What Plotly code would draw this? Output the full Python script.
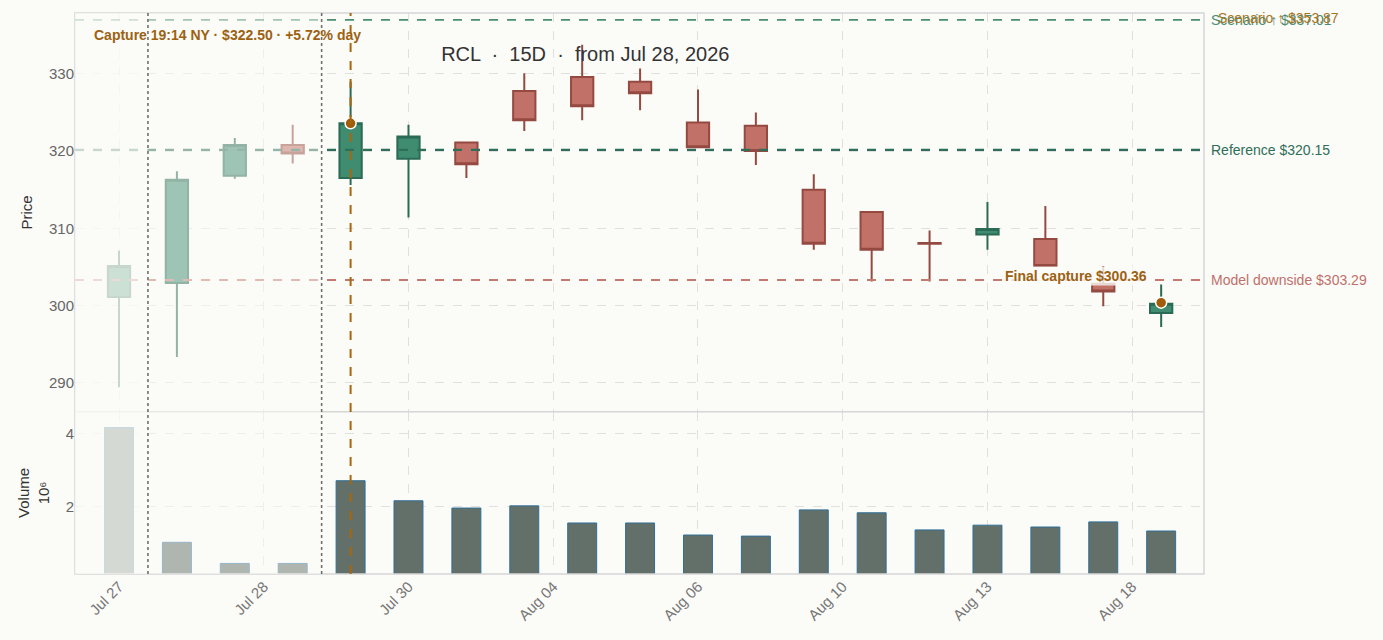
import plotly.graph_objects as go

# ---- data ----
bar_idx = list(range(19))
opens = [301.1, 302.9, 316.8, 320.8, 316.5, 319.0, 321.1, 327.8, 329.6, 329.0,
         323.7, 323.3, 315.0, 312.1, 308.1, 309.2, 308.6, 302.8, 299.0]
highs = [307.1, 317.4, 321.7, 323.4, 329.0, 323.4, 321.2, 330.1, 333.8, 330.7,
         328.0, 325.0, 317.0, 312.1, 309.7, 313.4, 312.9, 305.1, 302.7]
lows = [289.4, 293.3, 316.4, 318.4, 315.6, 311.4, 316.5, 322.6, 324.0, 325.3,
        320.4, 318.2, 307.2, 303.1, 303.1, 307.2, 305.1, 299.9, 297.2]
closes = [305.1, 316.3, 320.8, 319.7, 323.6, 321.9, 318.3, 324.0, 325.8, 327.5,
          320.5, 320.0, 308.0, 307.2, 308.0, 309.9, 305.1, 301.8, 300.2]
volume_m = [4.17, 1.02, 0.44, 0.44, 2.71, 2.16, 1.96, 2.02, 1.55, 1.55,
            1.22, 1.19, 1.91, 1.83, 1.36, 1.49, 1.44, 1.58, 1.33]

tick_labels = ["Jul 27", "Jul 28", "Jul 30", "Aug 04", "Aug 06", "Aug 10", "Aug 13", "Aug 18"]
tick_step = 2.5

reference = 320.15
downside = 303.29
scenario_up = 337.01
scenario_hi = 353.87
capture_bar = 4
final_bar = 18
final_price = 300.36
context_end = 0.5     # first dotted divider
window_start = 3.5    # second dotted divider

BG = "#fbfbf8"
INC_FILL, INC_LINE = "#3f8c70", "#2b6a55"
DEC_FILL, DEC_LINE = "#c27168", "#944a40"
GOLD = "#9c6212"
FONT = "Liberation Sans, Arial, sans-serif"

candles = go.Candlestick(
    x=bar_idx, open=opens, high=highs, low=lows, close=closes,
    increasing=dict(fillcolor=INC_FILL, line=dict(color=INC_LINE, width=2)),
    decreasing=dict(fillcolor=DEC_FILL, line=dict(color=DEC_LINE, width=2)),
    showlegend=False, xaxis="x", yaxis="y",
)

vol = go.Bar(
    x=bar_idx, y=volume_m, width=0.5,
    marker=dict(color="#627069", line=dict(color="#2f6f98", width=1)),
    showlegend=False, xaxis="x", yaxis="y2",
)

marks = go.Scatter(
    x=[capture_bar, final_bar], y=[closes[capture_bar], final_price],
    mode="markers",
    marker=dict(size=11, color="#a05c08", line=dict(color="white", width=1.5)),
    showlegend=False, xaxis="x", yaxis="y",
)

shapes = []
# borders
shapes.append(dict(type="rect", xref="paper", yref="paper", x0=0, x1=1, y0=0, y1=1,
                   line=dict(color="#d6d6d6", width=1.5), layer="above"))
shapes.append(dict(type="line", xref="paper", yref="paper", x0=0, x1=1, y0=0.289, y1=0.289,
                   line=dict(color="#d6d6d6", width=1.5), layer="above"))
# level lines
shapes.append(dict(type="line", xref="paper", yref="y", x0=0, x1=1, y0=scenario_up, y1=scenario_up,
                   line=dict(color="#4a8c74", width=1.6, dash="dash"), layer="above"))
shapes.append(dict(type="line", xref="paper", yref="y", x0=0, x1=1, y0=reference, y1=reference,
                   line=dict(color="#2f6e58", width=2.2, dash="dash"), layer="above"))
shapes.append(dict(type="line", xref="paper", yref="y", x0=0, x1=1, y0=downside, y1=downside,
                   line=dict(color="#c27a70", width=2.2, dash="dash"), layer="above"))
# fade the context bars
for x_end in [window_start, context_end]:
    shapes.append(dict(type="rect", xref="x", yref="paper", x0=-0.76, x1=x_end, y0=0, y1=1,
                       fillcolor=BG, opacity=0.5, line=dict(width=0), layer="above"))
# dividers and capture line
for xv in [context_end, window_start]:
    shapes.append(dict(type="line", xref="x", yref="paper", x0=xv, x1=xv, y0=0, y1=1,
                       line=dict(color="#707070", width=1.6, dash="dot"), layer="above"))
shapes.append(dict(type="line", xref="x", yref="paper", x0=capture_bar, x1=capture_bar, y0=0, y1=1,
                   line=dict(color="#a8660f", width=2, dash="dash"), layer="above"))

annotations = [
    dict(xref="paper", yref="y", x=1, y=reference, xanchor="left", xshift=5,
         text=f"Reference ${reference:.2f}", showarrow=False,
         font=dict(size=14, color="#2f6e58", family=FONT)),
    dict(xref="paper", yref="y", x=1, y=downside, xanchor="left", xshift=5,
         text=f"Model downside ${downside:.2f}", showarrow=False,
         font=dict(size=14, color="#c0706a", family=FONT)),
    dict(xref="paper", yref="y", x=1, y=scenario_up, xanchor="left", xshift=5,
         text=f"Scenario ↑ ${scenario_up:.2f}", showarrow=False,
         font=dict(size=14, color="#4a8c74", family=FONT)),
    dict(xref="paper", yref="paper", x=1, y=1, xanchor="left", yanchor="middle", xshift=12, yshift=-5,
         text=f"Scenario ↑ ${scenario_hi:.2f}", showarrow=False,
         font=dict(size=14, color="#a8741c", family=FONT)),
    dict(xref="paper", yref="paper", x=0.015, y=1, xanchor="left", yanchor="top", yshift=-12,
         text="<b>Capture 19:14 NY · $322.50 · +5.72% day</b>", showarrow=False,
         font=dict(size=14, color=GOLD, family=FONT)),
    dict(xref="x", yref="y", x=final_bar, y=final_price, xanchor="right", xshift=-12, yshift=27,
         text=f"<b>Final capture ${final_price:.2f}</b>", showarrow=False,
         bgcolor="rgba(251,251,248,0.8)",
         font=dict(size=14, color=GOLD, family=FONT)),
]

grid = dict(showgrid=True, gridcolor="#e0e0e0", griddash="dash", gridwidth=1, zeroline=False)

layout = go.Layout(
    width=1383, height=640,
    paper_bgcolor=BG, plot_bgcolor=BG,
    margin=dict(l=75, r=179, t=13, b=66),
    font=dict(family=FONT, color="#333333"),
    title=dict(text="RCL  ·  15D  ·  from Jul 28, 2026", x=0.452, xref="paper",
               xanchor="center", y=1 - 54 / 640, yref="container", yanchor="middle",
               font=dict(size=20, color="#333333", family=FONT)),
    xaxis=dict(range=[-0.76, 18.74], anchor="y2",
               tickvals=[i * tick_step for i in range(len(tick_labels))], ticktext=tick_labels,
               tickangle=-45, tickfont=dict(size=15, color="#777777"),
               rangeslider=dict(visible=False), **grid),
    yaxis=dict(domain=[0.289, 1], range=[286.2, 337.9], dtick=10,
               title=dict(text="Price", font=dict(size=15), standoff=12),
               tickfont=dict(size=15, color="#666666"), **grid),
    yaxis2=dict(domain=[0, 0.289], range=[0.15, 4.6], tickvals=[2, 4],
                title=dict(text="Volume<br>10⁶", font=dict(size=15), standoff=12),
                tickfont=dict(size=15, color="#666666"), **grid),
    boxgap=0.45,
    bargap=0.5,
    shapes=shapes,
    annotations=annotations,
)

fig = go.Figure(data=[candles, vol, marks], layout=layout)
# page background the same as the chart, no body margin
fig.write_html("out.html", config={"displayModeBar": False},
               post_script="document.body.style.margin='0';"
                           "document.body.style.background='#fbfbf8';")
